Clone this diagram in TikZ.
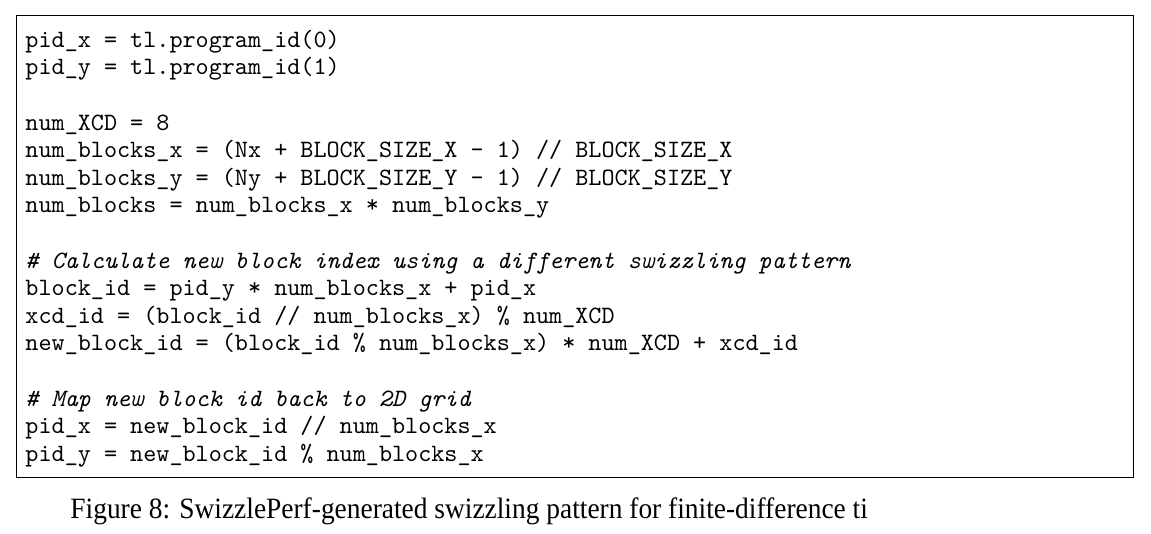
\documentclass[tikz,border=0pt]{standalone}
\usepackage{xcolor}
\usepackage{tikz}
\usepackage{fontspec}
\newfontfamily\captionserif{Liberation Serif}

\begin{document}
\begin{tikzpicture}[x=0.407pt, y=-0.407pt]
        \useasboundingbox (0,0) rectangle (1151,533);
        \node (frame) [draw, rectangle, line width=0.6pt, anchor=north west, inner sep=0pt, minimum width=454.6pt, minimum height=188pt] at (16,15) {};
        \node (code) [anchor=north west, inner sep=0pt, align=left, font=\ttfamily\fontsize{10.15}{11.23}\selectfont] at (25,29.5) {pid\_x = tl.program\_id(0)\\
pid\_y = tl.program\_id(1)\\[11.23pt]
num\_XCD = 8\\
num\_blocks\_x = (Nx + BLOCK\_SIZE\_X - 1) // BLOCK\_SIZE\_X\\
num\_blocks\_y = (Ny + BLOCK\_SIZE\_Y - 1) // BLOCK\_SIZE\_Y\\
num\_blocks = num\_blocks\_x * num\_blocks\_y\\[11.23pt]
{\itshape \# Calculate new block index using a different swizzling pattern}\\
block\_id = pid\_y * num\_blocks\_x + pid\_x\\
xcd\_id = (block\_id // num\_blocks\_x) \% num\_XCD\\
new\_block\_id = (block\_id \% num\_blocks\_x) * num\_XCD + xcd\_id\\[11.23pt]
{\itshape \# Map new block id back to 2D grid}\\
pid\_x = new\_block\_id // num\_blocks\_x\\
pid\_y = new\_block\_id \% num\_blocks\_x};
        \node (caption) [anchor=base west, inner sep=0pt, xscale=0.93, transform shape, font=\captionserif\fontsize{12}{14}\selectfont] at (70,518) {Figure 8: SwizzlePerf-generated swizzling pattern for finite-difference ti};
    \end{tikzpicture}
\end{document}
